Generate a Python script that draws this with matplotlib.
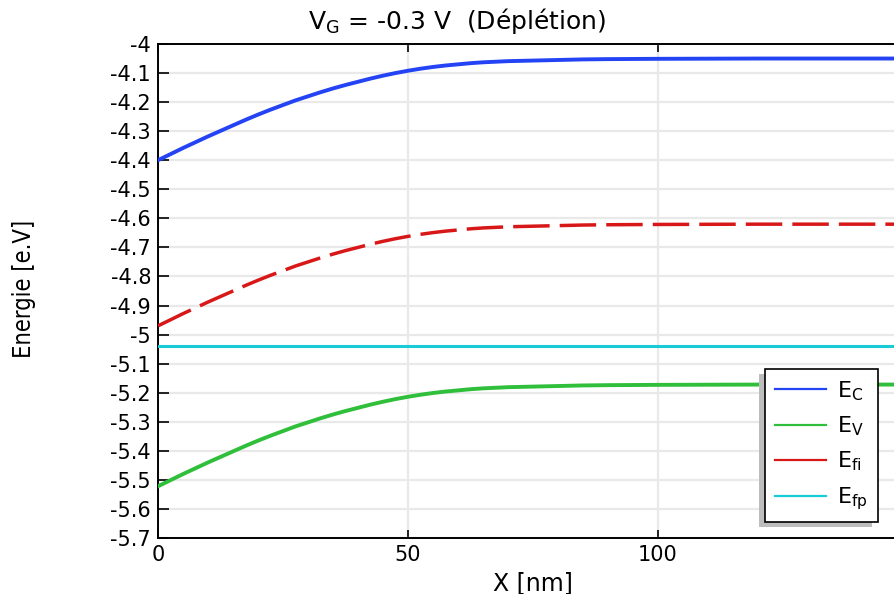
"""Band diagram (depletion regime) recreated with matplotlib."""

import matplotlib

matplotlib.use("Agg")
import matplotlib.pyplot as plt  # noqa: E402
from matplotlib.ticker import FixedLocator, FuncFormatter, MultipleLocator  # noqa: E402

# --- data ---
x_nm = [0, 2.5, 5, 7.5, 10, 12.5, 15, 17.5, 20, 22.5, 25, 27.5, 30, 32.5, 35, 37.5,
        40, 42.5, 45, 47.5, 50, 52.5, 55, 57.5, 60, 62.5, 65, 67.5, 70, 75, 80, 85,
        90, 100, 120, 150]
e_c = [-4.400, -4.379, -4.358, -4.338, -4.318, -4.299, -4.280, -4.261, -4.243, -4.226,
       -4.210, -4.194, -4.180, -4.166, -4.153, -4.141, -4.130, -4.119, -4.109, -4.100,
       -4.092, -4.085, -4.079, -4.074, -4.070, -4.066, -4.063, -4.061, -4.059, -4.057,
       -4.055, -4.053, -4.052, -4.051, -4.050, -4.050]
e_fi = [-4.970, -4.949, -4.928, -4.908, -4.888, -4.869, -4.850, -4.831, -4.813, -4.796,
        -4.780, -4.764, -4.750, -4.736, -4.723, -4.711, -4.700, -4.689, -4.679, -4.670,
        -4.662, -4.655, -4.649, -4.644, -4.640, -4.636, -4.633, -4.631, -4.629, -4.627,
        -4.625, -4.623, -4.622, -4.621, -4.620, -4.620]
e_v = [-5.522, -5.501, -5.480, -5.460, -5.440, -5.421, -5.402, -5.383, -5.365, -5.348,
       -5.332, -5.316, -5.302, -5.288, -5.275, -5.263, -5.252, -5.241, -5.231, -5.222,
       -5.214, -5.207, -5.201, -5.196, -5.192, -5.188, -5.185, -5.183, -5.181, -5.179,
       -5.177, -5.175, -5.174, -5.173, -5.172, -5.172]
x_fp = [0, 150]
e_fp = [-5.04, -5.04]

labels = [r"$\mathrm{E_C}$", r"$\mathrm{E_V}$", r"$\mathrm{E_{fi}}$", r"$\mathrm{E_{fp}}$"]
title = r"$\mathrm{V_G}$ = -0.3 V  (Déplétion)"

plt.rcParams["axes.unicode_minus"] = False
plt.rcParams["mathtext.fontset"] = "dejavusans"

fig = plt.figure(figsize=(8.94, 5.94), dpi=100)
# axes runs a little past the right edge of the picture, as in the original crop
ax = fig.add_axes([158 / 894, 56 / 594, 750 / 894, 494 / 594])

ax.plot(x_nm, e_c, color="#2343f5", lw=2.8, label=labels[0], zorder=3)
ax.plot(x_nm, e_v, color="#2fbf3a", lw=2.8, label=labels[1], zorder=3)
ax.plot(x_nm, e_fi, color="#d81818", lw=2.5, ls=(0, (10.5, 2.9)), label=labels[2], zorder=3)
ax.plot(x_fp, e_fp, color="#19cbd6", lw=2.2, label=labels[3], zorder=3)

ax.set_xlim(0, 150)
ax.set_ylim(-5.7, -4.0)
ax.xaxis.set_major_locator(FixedLocator([0, 50, 100]))
ax.yaxis.set_major_locator(MultipleLocator(0.1))
ax.yaxis.set_major_formatter(FuncFormatter(lambda v, _: f"{round(v, 1):g}"))
ax.tick_params(axis="both", direction="in", labelsize=15, width=1.2, pad=5)
ax.tick_params(axis="y", length=8)
ax.tick_params(axis="x", length=6, top=True)
ax.grid(True, color="#e9e9e9", lw=1.6, zorder=0)
ax.set_axisbelow(True)
for side in ("left", "bottom", "top"):
    ax.spines[side].set_linewidth(1.4)

ax.set_xlabel("X [nm]", fontsize=17)
ax.xaxis.set_label_coords(0.5, -0.068)
fig.text(24 / 894, 1 - 289 / 594, "Energie [e.V]", rotation=90, ha="center", va="center",
         fontsize=17, fontstretch="condensed")
fig.text(457 / 894, 1 - 21 / 594, title, ha="center", va="center", fontsize=18)

leg = ax.legend(
    loc="upper left", bbox_to_anchor=(765 / 894, 1 - 369 / 594), bbox_transform=fig.transFigure,
    borderaxespad=0, fontsize=16, frameon=True, fancybox=False, edgecolor="black",
    handlelength=2.3, handletextpad=0.5, labelspacing=0.53, borderpad=0.45,
    shadow={"ox": -4, "oy": -3.6, "facecolor": "#bdbdbd", "edgecolor": "none", "alpha": 1},
)
leg.get_frame().set_linewidth(1.2)
for line in leg.get_lines():
    line.set_linewidth(1.6)
    line.set_linestyle("-")

fig.savefig("out.png", dpi=100)
